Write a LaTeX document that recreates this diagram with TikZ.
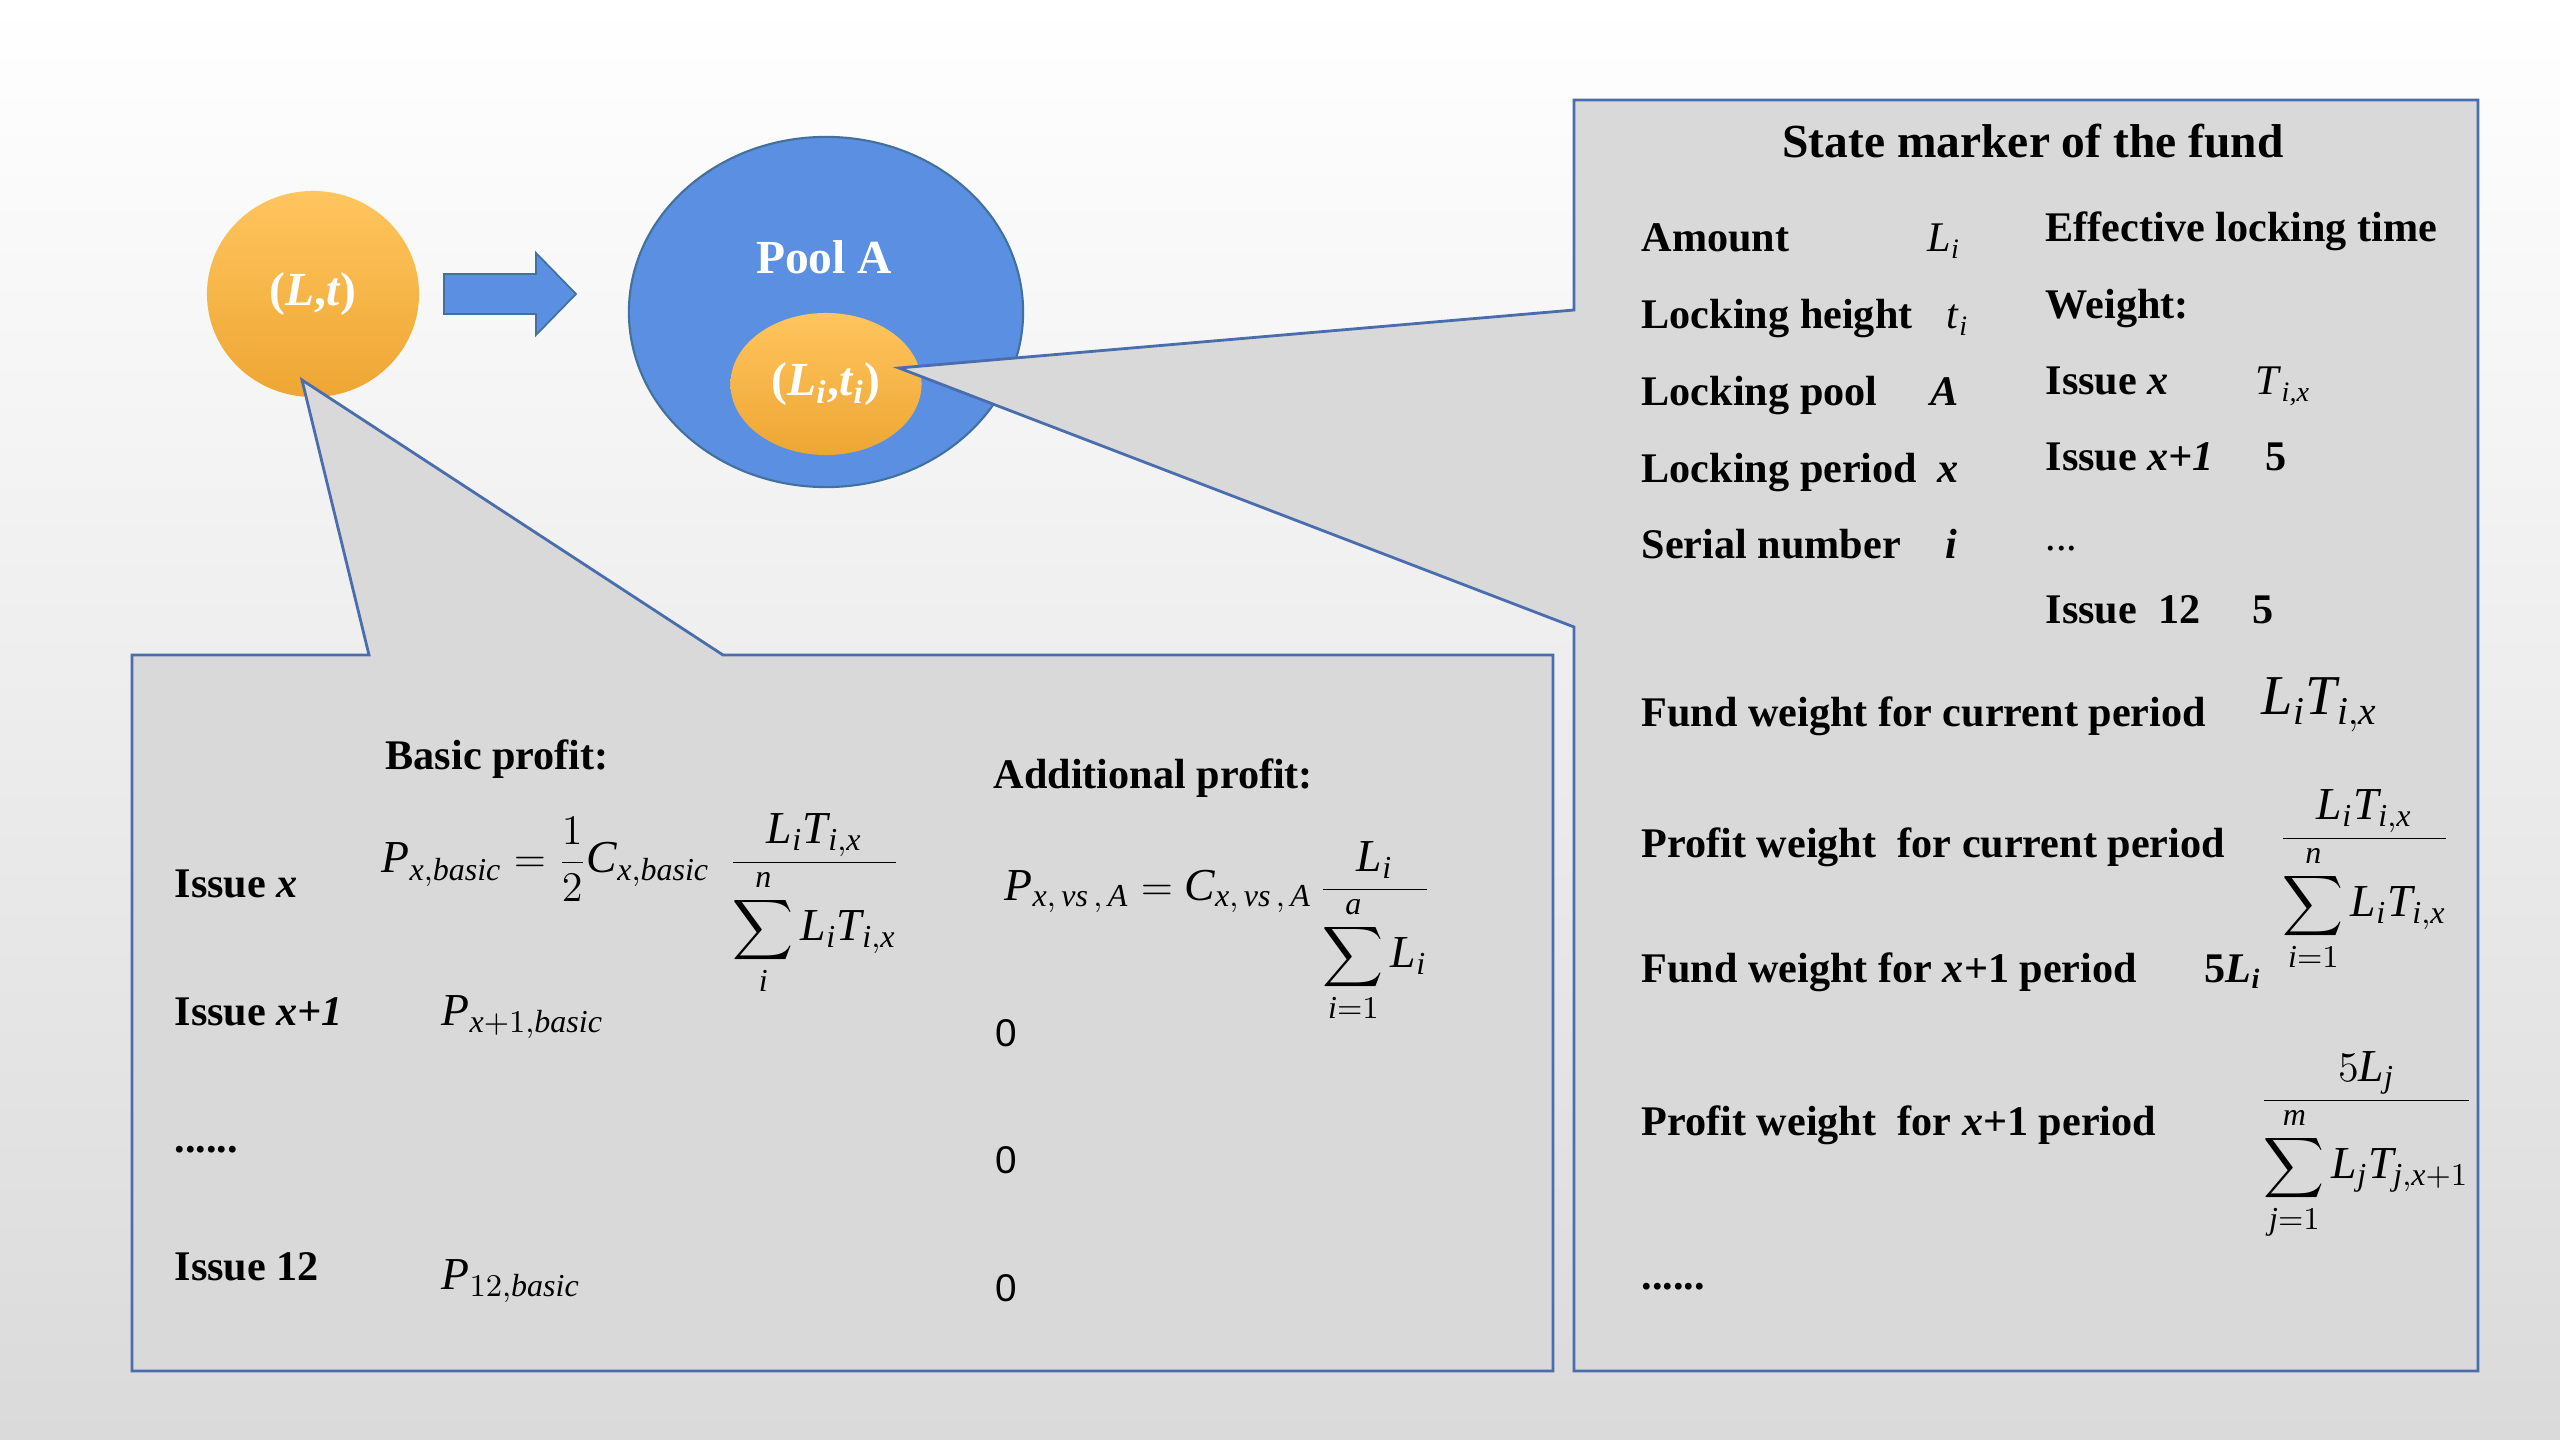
\documentclass[tikz,border=0pt]{standalone}
\usepackage{amsmath}
\usepackage{fontspec}
\setmainfont{Liberation Serif}
\newfontfamily\sansfont{Liberation Sans}
\newfontfamily\mathtimes{Liberation Serif}[NFSSFamily=tnr]
\DeclareSymbolFont{tnrit}{TU}{tnr}{m}{it}
\DeclareMathSymbol{a}{\mathalpha}{tnrit}{`a}
\DeclareMathSymbol{b}{\mathalpha}{tnrit}{`b}
\DeclareMathSymbol{c}{\mathalpha}{tnrit}{`c}
\DeclareMathSymbol{i}{\mathalpha}{tnrit}{`i}
\DeclareMathSymbol{j}{\mathalpha}{tnrit}{`j}
\DeclareMathSymbol{m}{\mathalpha}{tnrit}{`m}
\DeclareMathSymbol{n}{\mathalpha}{tnrit}{`n}
\DeclareMathSymbol{s}{\mathalpha}{tnrit}{`s}
\DeclareMathSymbol{v}{\mathalpha}{tnrit}{`v}
\DeclareMathSymbol{x}{\mathalpha}{tnrit}{`x}
\DeclareMathSymbol{A}{\mathalpha}{tnrit}{`A}
\DeclareMathSymbol{C}{\mathalpha}{tnrit}{`C}
\DeclareMathSymbol{L}{\mathalpha}{tnrit}{`L}
\DeclareMathSymbol{P}{\mathalpha}{tnrit}{`P}
\DeclareMathSymbol{T}{\mathalpha}{tnrit}{`T}
\newcommand{\wfrac}[2]{\dfrac{\displaystyle #1}{\displaystyle #2}}
\usetikzlibrary{shapes.geometric}
\definecolor{bgmid}{HTML}{F4F4F4}
\definecolor{bgbot}{HTML}{DADADA}
\definecolor{boxgray}{HTML}{D9D9D9}
\definecolor{boxline}{HTML}{4A6DAE}
\definecolor{poolblue}{HTML}{5B8FE2}
\definecolor{pooledge}{HTML}{41719C}
\definecolor{goldtop}{HTML}{FFC55E}
\definecolor{goldbot}{HTML}{EEA633}

\begin{document}
\begin{tikzpicture}[x=0.01cm, y=-0.01cm,
        txt/.style={anchor=base west, inner sep=0pt, font=\fontsize{12}{14}\selectfont\bfseries},
        val/.style={anchor=base west, inner sep=0pt, font=\fontsize{12}{14}\selectfont},
        eq/.style={anchor=base west, inner sep=0pt, font=\fontsize{13}{15}\selectfont},
        zero/.style={anchor=base west, inner sep=0pt, font=\fontsize{11}{13}\selectfont\sansfont},
        gold/.style={ellipse, inner sep=0pt, top color=goldtop, bottom color=goldbot, text=white,
            font=\fontsize{13.5}{16}\selectfont\bfseries},
        callout/.style={fill=boxgray, draw=boxline, line width=0.8pt, line join=miter}]
        \useasboundingbox (0,0) rectangle (2560,1440);
        \fill[top color=white, middle color=bgmid, bottom color=bgbot] (0,0) rectangle (2560,1440);

        \node[gold, minimum width=2.12cm, minimum height=2.06cm] (lt) at (313,294) {(\textit{L},\textit{t})};
        \draw[fill=poolblue, draw=pooledge, line width=0.5pt]
            (444,274) -- (536,274) -- (536,253) -- (576,294) -- (536,335) -- (536,314) -- (444,314) -- cycle;
        \node[ellipse, inner sep=0pt, fill=poolblue, draw=pooledge, line width=0.6pt,
            minimum width=3.94cm, minimum height=3.5cm] (pool) at (826,312) {};
        \node[anchor=center, inner sep=0pt, text=white, font=\fontsize{13.5}{16}\selectfont\bfseries]
            (poolA) at (824,257) {Pool A};
        \node[gold, minimum width=1.91cm, minimum height=1.42cm] (lti) at (826,384)
            {(\textit{L}\textsubscript{\textit{i}},\textit{t}\textsubscript{\textit{i}})};

        \coordinate (tipL) at (302,380);
        \coordinate (tipR) at (899,368);
        \draw[callout] (132,655) -- (369,655) -- (tipL) -- (723,655) -- (1553,655) -- (1553,1371) -- (132,1371) -- cycle;
        \draw[callout] (1574,100) -- (2478,100) -- (2478,1371) -- (1574,1371) -- (1574,627) -- (tipR) -- (1574,310) -- cycle;

        \node[txt, anchor=base, font=\fontsize{13.5}{16}\selectfont\bfseries] (title) at (2033,158) {State marker of the fund};
        \node[txt] (amt) at (1641,252) {Amount};
        \node[txt] (lheight) at (1641,329) {Locking height};
        \node[txt] (lpool) at (1641,406) {Locking pool};
        \node[txt] (lperiod) at (1641,483) {Locking period};
        \node[txt] (serial) at (1641,559) {Serial number};
        \node[val] (amtv) at (1927,252) {\textit{L}\textsubscript{\textit{i}}};
        \node[val] (lheightv) at (1946,329) {\textit{t}\textsubscript{\textit{i}}};
        \node[txt] (lpoolv) at (1930,406) {\textit{A}};
        \node[txt] (lperiodv) at (1937,483) {\textit{x}};
        \node[txt] (serialv) at (1945,559) {\textit{i}};

        \node[txt] (eff) at (2045,242) {Effective locking time};
        \node[txt] (weight) at (2045,319) {Weight:};
        \node[txt] (wx) at (2045,395) {Issue \textit{x}};
        \node[txt] (wxa) at (2045,471) {Issue \textit{x+1}};
        \node[val] (wdots) at (2045,551) {...};
        \node[txt] (wlast) at (2045,624) {Issue\ \ 12};
        \node[val] (wxv) at (2255,395) {\textit{T}\textsubscript{\textit{i,x}}};
        \node[txt] (wxav) at (2265,471) {5};
        \node[txt] (wlastv) at (2252,624) {5};

        \node[txt] (fwc) at (1641,727) {Fund weight for current period};
        \node[eq, font=\fontsize{16}{18}\selectfont] (fwcv) at (2261,715) {$L_iT_{i,x}$};
        \node[txt] (pwc) at (1641,858) {Profit weight\ \ for current period};
        \node[eq] (pwcv) at (2278,849) {$\wfrac{L_iT_{i,x}}{\sum_{i=1}^{n}L_iT_{i,x}}$};
        \node[txt] (fwn) at (1641,982) {Fund weight for \textit{x}+1 period};
        \node[txt] (fwnv) at (2204,982) {5\textit{L}\textsubscript{\textit{i}}};
        \node[txt] (pwn) at (1641,1135) {Profit weight\ \ for \textit{x}+1 period};
        \node[eq] (pwnv) at (2259,1111) {$\wfrac{5L_j}{\sum_{j=1}^{m}L_jT_{j,x+1}}$};
        \node[txt] (rdots) at (1641,1289) {......};

        \node[txt] (basic) at (385,770) {Basic profit:};
        \node[txt] (addl) at (993,789) {Additional profit:};
        \node[txt] (ix) at (174,897) {Issue \textit{x}};
        \node[txt] (ixa) at (174,1025) {Issue \textit{x+1}};
        \node[txt] (ldots) at (174,1152) {......};
        \node[txt] (ilast) at (174,1280) {Issue 12};
        \node[eq] (pbx) at (381,873)
            {$P_{x,basic}=\wfrac{1}{2}C_{x,basic}\,\;\wfrac{L_iT_{i,x}}{\sum_{i}^{n}L_iT_{i,x}}$};
        \node[eq] (pvx) at (1004,900)
            {$P_{x,\,vs\,,\,A}=C_{x,\,vs\,,\,A}\,\wfrac{L_i}{\sum_{i=1}^{a}L_i}$};
        \node[eq] (pbxa) at (441,1025) {$P_{x+1,basic}$};
        \node[eq] (pblast) at (441,1289) {$P_{12,basic}$};
        \node[zero] (za) at (995,1046) {0}; \node[zero] (zb) at (995,1173) {0}; \node[zero] (zc) at (995,1301) {0};
    \end{tikzpicture}
\end{document}
